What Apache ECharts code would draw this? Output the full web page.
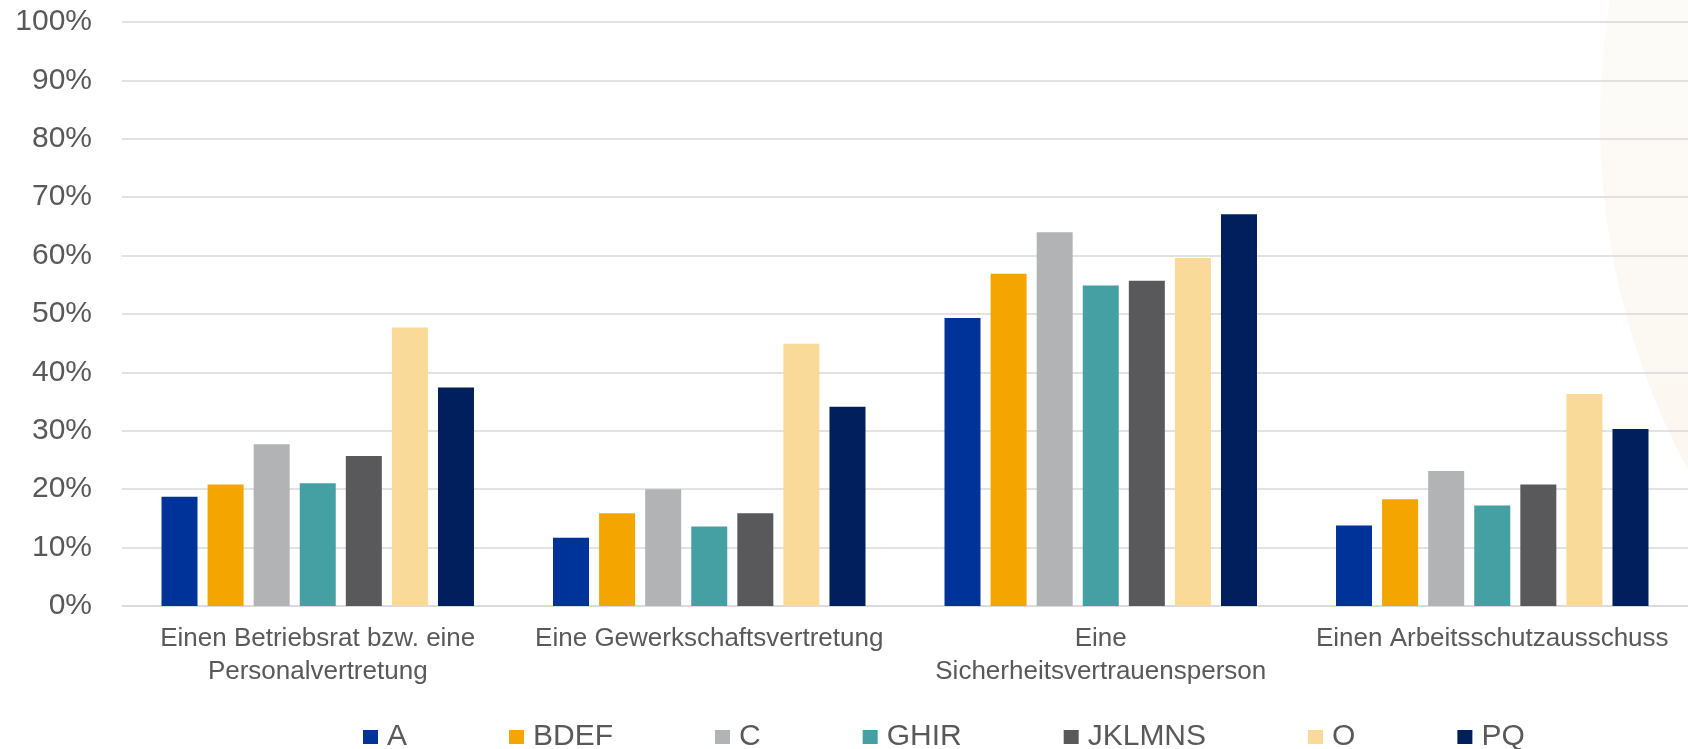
<!DOCTYPE html>
<html>
<head>
<meta charset="utf-8">
<style>
  html, body { margin: 0; padding: 0; background: #ffffff; }
  #chart { width: 1688px; height: 749px; }
</style>
<script src="https://cdn.jsdelivr.net/npm/echarts@6/dist/echarts.min.js"></script>
</head>
<body>
<div id="chart"></div>
<script>
// Categories (x axis)
const categories = [
  'Einen Betriebsrat bzw. eine\nPersonalvertretung',
  'Eine Gewerkschaftsvertretung',
  'Eine\nSicherheitsvertrauensperson',
  'Einen Arbeitsschutzausschuss'
];

// Shares in percent per sector group
const seriesNames = ['A', 'BDEF', 'C', 'GHIR', 'JKLMNS', 'O', 'PQ'];
const valuesA      = [18.7, 11.7, 49.3, 13.8];
const valuesBDEF   = [20.8, 15.9, 56.9, 18.3];
const valuesC      = [27.7, 20.0, 64.0, 23.1];
const valuesGHIR   = [21.0, 13.6, 54.9, 17.2];
const valuesJKLMNS = [25.7, 15.9, 55.7, 20.8];
const valuesO      = [47.7, 44.9, 59.6, 36.3];
const valuesPQ     = [37.4, 34.1, 67.1, 30.3];

// Y axis ticks
const yTicks = [0, 10, 20, 30, 40, 50, 60, 70, 80, 90, 100];

const seriesValues = [valuesA, valuesBDEF, valuesC, valuesGHIR, valuesJKLMNS, valuesO, valuesPQ];
const seriesColors = ['#00339a', '#f5a500', '#b2b3b5', '#45a0a3', '#59595b', '#f9da99', '#001f5c'];

const FONT = '"Liberation Sans", Arial, Helvetica, sans-serif';
const TEXT_COLOR = '#595959';

const chart = echarts.init(document.getElementById('chart'), null, { renderer: 'canvas' });

chart.setOption({
  backgroundColor: '#ffffff',
  animation: false,
  textStyle: { fontFamily: FONT },
  graphic: [{
    // soft decorative arc in the right background
    type: 'circle',
    z: -10,
    silent: true,
    shape: { cx: 2340, cy: 120, r: 740 },
    style: {
      fill: new echarts.graphic.LinearGradient(0, 0, 0, 1, [
        { offset: 0, color: '#fefefd' },
        { offset: 0.45, color: '#fdfbf8' },
        { offset: 1, color: '#faf3e8' }
      ])
    }
  }],
  grid: { left: 122, right: 0, top: 22, bottom: 143, containLabel: false },
  legend: {
    data: seriesNames,
    left: 358,
    top: 717,
    itemWidth: 15,
    itemHeight: 14,
    itemGap: 102,
    icon: 'rect',
    textStyle: {
      fontFamily: FONT,
      fontSize: 30,
      color: TEXT_COLOR,
      padding: [0, 0, 0, 4]
    }
  },
  xAxis: {
    type: 'category',
    data: categories,
    axisLine: { show: true, lineStyle: { color: '#d9d9d9', width: 1.5 } },
    axisTick: { show: false },
    axisLabel: {
      interval: 0,
      margin: 16,
      fontFamily: FONT,
      fontSize: 26,
      lineHeight: 33,
      color: TEXT_COLOR,
      align: 'center'
    }
  },
  yAxis: {
    type: 'value',
    min: yTicks[0],
    max: yTicks[yTicks.length - 1],
    interval: yTicks[1] - yTicks[0],
    axisLine: { show: false },
    axisTick: { show: false },
    splitLine: { show: true, lineStyle: { color: '#d9d9d9', width: 1.5 } },
    axisLabel: {
      margin: 30,
      fontFamily: FONT,
      fontSize: 30,
      color: TEXT_COLOR,
      formatter: '{value}%'
    }
  },
  series: seriesNames.map((name, i) => ({
    name: name,
    type: 'bar',
    data: seriesValues[i],
    barWidth: 36,
    barGap: '28%',
    itemStyle: { color: seriesColors[i] }
  }))
});
</script>
</body>
</html>
